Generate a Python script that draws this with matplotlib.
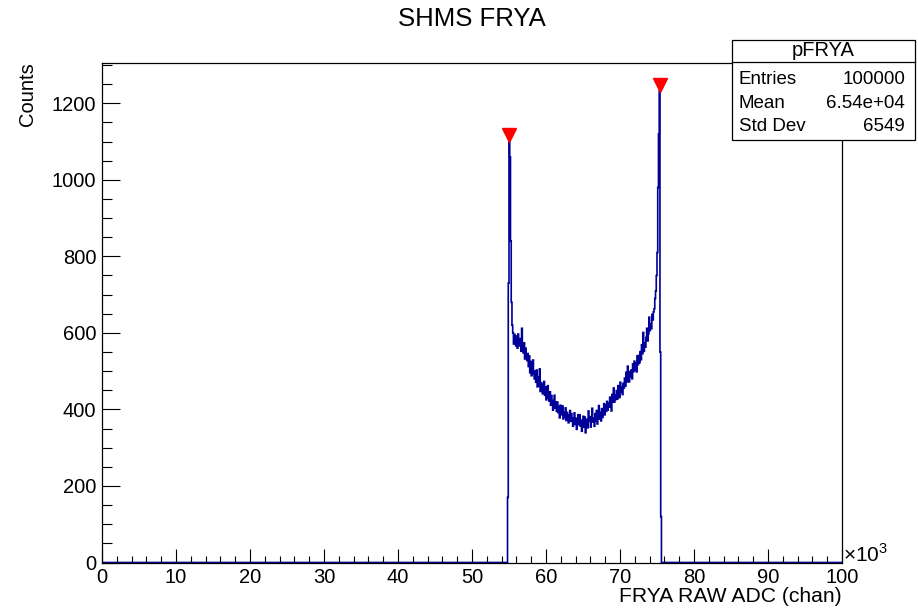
import numpy as np
import matplotlib.pyplot as plt
from matplotlib.patches import Rectangle
from matplotlib.lines import Line2D
from matplotlib.ticker import MultipleLocator, FuncFormatter

plt.rcParams['font.family'] = ['Liberation Sans', 'DejaVu Sans']
plt.rcParams['mathtext.fontset'] = 'custom'
plt.rcParams['mathtext.rm'] = 'Liberation Sans'

# histogram: 1000 bins of 100 chan from 0 to 100000, non-empty part starts at 54800
bin_width = 100
n_bins = 1000
first_bin = 54800
counts = [
    170, 730, 1100, 1060, 840, 680, 620,
    600, 571, 596, 579, 566, 592, 560, 597, 578, 566,
    585, 552, 612, 566, 548, 574, 532, 560, 541, 528,
    546, 512, 540, 496, 525, 488, 503, 529, 492, 480,
    500, 471, 503, 459, 485, 462, 506, 447, 470, 453,
    441, 466, 473, 437, 459, 425, 446, 462, 430, 422,
    446, 411, 436, 420, 398, 423, 437, 404, 419, 395,
    419, 392, 407, 378, 411, 397, 386, 409, 375, 392,
    381, 404, 371, 392, 386, 365, 382, 397, 369, 389,
    378, 356, 372, 391, 361, 377, 348, 373, 386, 360,
    386, 357, 372, 343, 365, 382, 354, 380, 339, 364,
    374, 352, 396, 369, 381, 354, 371, 403, 367, 378,
    356, 389, 371, 397, 362, 386, 410, 375, 392, 370,
    402, 379, 398, 415, 386, 412, 395, 421, 398, 417,
    406, 432, 411, 396, 439, 420, 456, 419, 437, 426,
    449, 427, 462, 440, 431, 471, 446, 458, 439, 468,
    456, 482, 461, 497, 472, 513, 480, 472, 499, 485,
    503, 480, 519, 499, 526, 504, 521, 498, 540, 517,
    541, 522, 551, 530, 569, 546, 601, 552, 574, 563,
    588, 612, 579, 597, 641, 606, 623, 611, 648, 634,
    655, 663,
    690, 710, 750, 810, 980, 1120, 1232, 550, 120,
]

# peaks found (TSpectrum style markers)
peak_x = [55050, 75350]
peak_y = [1116, 1248]

stats_title = 'pFRYA'
stats_rows = [('Entries', '100000'), ('Mean', '6.54e+04'), ('Std Dev', '6549')]

full = np.zeros(n_bins)
i0 = first_bin // bin_width
full[i0:i0 + len(counts)] = counts
edges = np.arange(n_bins + 1) * bin_width

W, H = 918, 608
fig = plt.figure(figsize=(W / 100, H / 100), dpi=100)
ax = fig.add_axes([102 / W, 1 - 562.5 / H, 740 / W, 499.8 / H])

ax.stairs(full, edges, color='#000099', lw=1.2)
ax.plot(peak_x, peak_y, 'v', color='red', ms=9.5, mec='red')

ax.set_xlim(0, 100000)
ax.set_ylim(0, 1306)

ax.xaxis.set_major_locator(MultipleLocator(10000))
ax.xaxis.set_minor_locator(MultipleLocator(2000))
ax.yaxis.set_major_locator(MultipleLocator(200))
ax.yaxis.set_minor_locator(MultipleLocator(50))
ax.xaxis.set_major_formatter(FuncFormatter(lambda v, p: '%d' % round(v / 1000)))

ax.tick_params(axis='x', which='major', direction='in', length=10, width=0.8, labelsize=14.5, pad=4)
ax.tick_params(axis='x', which='minor', direction='in', length=5, width=0.8)
ax.tick_params(axis='y', which='major', direction='in', length=13, width=0.8, labelsize=14.5, pad=4)
ax.tick_params(axis='y', which='minor', direction='in', length=7, width=0.8)
for s in ax.spines.values():
    s.set_linewidth(0.9)

fig.text(472 / W, 1 - 19 / H, 'SHMS FRYA', ha='center', va='center', fontsize=18.5)
fig.text(842 / W, 1 - 597 / H, 'FRYA RAW ADC (chan)', ha='right', va='center', fontsize=15.2)
fig.text(27 / W, 1 - 62.5 / H, 'Counts', ha='center', va='top', rotation=90, fontsize=14.5)
fig.text(843 / W, 1 - 555 / H, r'$\times10^{3}$', ha='left', va='center', fontsize=15)

# stats box
bx0, bx1, by0, by1, bdiv = 731.5, 915, 40, 140, 62.3
fig.add_artist(Rectangle((bx0 / W, 1 - by1 / H), (bx1 - bx0) / W, (by1 - by0) / H,
                         transform=fig.transFigure, facecolor='white', edgecolor='black', lw=0.9, zorder=5))
fig.add_artist(Line2D([bx0 / W, bx1 / W], [1 - bdiv / H, 1 - bdiv / H],
                      transform=fig.transFigure, color='black', lw=0.9, zorder=6))
fig.text((bx0 + bx1) / 2 / W, 1 - 51 / H, stats_title, ha='center', va='center', fontsize=14.5, zorder=7)
row_y = [79, 103.5, 127]
for (name, val), yy in zip(stats_rows, row_y):
    fig.text(739 / W, 1 - yy / H, name, ha='left', va='center', fontsize=13.5, zorder=7)
    fig.text(905 / W, 1 - yy / H, val, ha='right', va='center', fontsize=13.5, zorder=7)

fig.savefig('out.png', dpi=100)
